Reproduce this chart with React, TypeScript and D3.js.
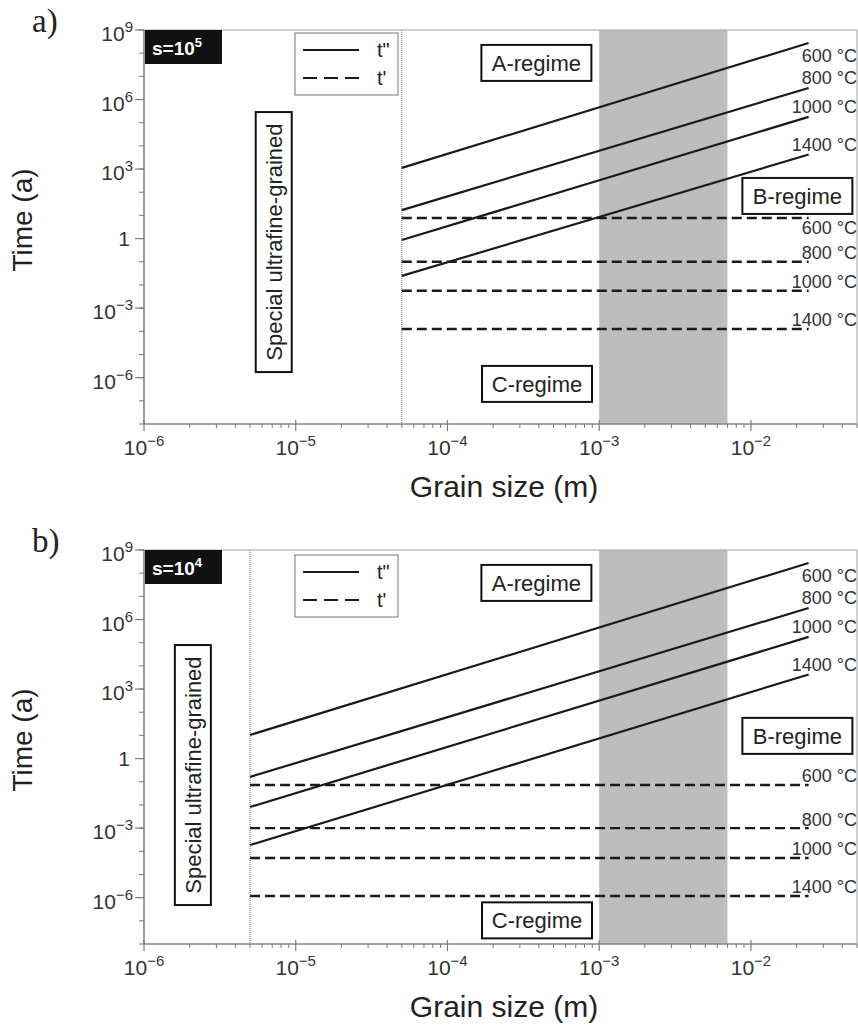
import React from 'react';
import * as d3 from 'd3';

// ---------- data ----------
const temperatures = ['600 °C', '800 °C', '1000 °C', '1400 °C'];
const grainDomain = [1e-6, 5e-2];
const timeDomain = [1e-8, 1e9];
const xTickExps = [-6, -5, -4, -3, -2];
const yTickExps = [9, 6, 3, 0, -3, -6];
const grainEnd = 2.4e-2;
const bandRange = [1e-3, 7e-3];

// log10 of time (a)
const solidEnd = [8.44, 6.5, 5.25, 3.63];
const solidLabelA = [7.92, 6.93, 5.68, 4.04];

const sExpA = '5';
const boundaryA = 5e-5;
const solidStartA = [3.05, 1.23, -0.06, -1.61];
const dashedA = [0.89, -1.0, -2.25, -3.9];
const dashedLabelA = [0.46, -0.62, -1.87, -3.51];

const sExpB = '4';
const boundaryB = 5e-6;
const solidStartB = [1.02, -0.79, -2.09, -3.73];
const dashedB = [-1.14, -3.0, -4.29, -5.93];
const dashedLabelB = [-0.71, -2.65, -3.86, -5.54];

// annotation anchors [log10 grain, log10 time]
const regimeA = { A: [-3.414, 7.58], B: [-1.694, 1.84], C: [-3.41, -6.27], S: [-5.145, -0.15] };
const regimeB = { A: [-3.414, 7.58], B: [-1.694, 0.98], C: [-3.41, -6.98], S: [-5.678, -0.71] };

const FONT = 'Liberation Sans, Arial, Helvetica, sans-serif';
const W = 858;
const H = 1034;
const LEFT = 144;
const RIGHT = 857;
const PH = 394;

type PanelProps = {
  top: number;
  letter: string;
  sExp: string;
  boundary: number;
  solidStart: number[];
  dashed: number[];
  dashedLabel: number[];
  regime: { A: number[]; B: number[]; C: number[]; S: number[] };
  legendOffset: number;
};

function Panel(p: PanelProps) {
  const x = d3.scaleLog().domain(grainDomain).range([LEFT, RIGHT]);
  const y = d3.scaleLog().domain(timeDomain).range([p.top + PH, p.top]);
  const bottom = p.top + PH;
  const line = d3
    .line<[number, number]>()
    .x((d) => x(d[0]))
    .y((d) => y(d[1]));

  const minorX: number[] = [];
  for (let e = -6; e <= -2; e++) {
    for (let m = 2; m <= 9; m++) {
      const v = m * Math.pow(10, e);
      if (v <= grainDomain[1]) minorX.push(v);
    }
  }
  const minorY: number[] = [];
  for (let e = -8; e <= 9; e++) minorY.push(Math.pow(10, e));

  const axisColor = '#7a7a7a';

  const box = (key: 'A' | 'B' | 'C', label: string) => {
    const cx = x(Math.pow(10, p.regime[key][0]));
    const cy = y(Math.pow(10, p.regime[key][1]));
    return (
      <g key={key}>
        <rect x={cx - 55} y={cy - 18} width={110} height={36} fill="white" stroke="#111" strokeWidth={2} />
        <text x={cx} y={cy} dy="0.36em" textAnchor="middle" fontSize={22} fill="#222" fontFamily={FONT}>
          {label}
        </text>
      </g>
    );
  };

  const sx = x(Math.pow(10, p.regime.S[0]));
  const sy = y(Math.pow(10, p.regime.S[1]));

  return (
    <g>
      {/* gray band */}
      <rect x={x(bandRange[0])} y={p.top} width={x(bandRange[1]) - x(bandRange[0])} height={PH} fill="#bdbdbd" />
      {/* frame */}
      <rect x={LEFT} y={p.top} width={RIGHT - LEFT} height={PH} fill="none" stroke="#a0a0a0" strokeWidth={1} />
      <line x1={LEFT} x2={LEFT} y1={p.top} y2={bottom} stroke={axisColor} strokeWidth={1.2} />
      <line x1={LEFT} x2={RIGHT} y1={bottom} y2={bottom} stroke={axisColor} strokeWidth={1.2} />
      {/* x ticks */}
      {minorX.map((v, i) => (
        <line key={'mx' + i} x1={x(v)} x2={x(v)} y1={bottom} y2={bottom + 4} stroke={axisColor} strokeWidth={1} />
      ))}
      {xTickExps.map((e) => (
        <g key={'xt' + e}>
          <line x1={x(Math.pow(10, e))} x2={x(Math.pow(10, e))} y1={bottom - 4} y2={bottom + 7} stroke={axisColor} strokeWidth={1.2} />
          <text x={x(Math.pow(10, e))} y={bottom + 31} textAnchor="middle" fontSize={21} fill="#333" fontFamily={FONT}>
            10
            <tspan fontSize={15} dy={-9}>{'\u2212' + Math.abs(e)}</tspan>
          </text>
        </g>
      ))}
      {/* y ticks */}
      {minorY.map((v, i) => (
        <line key={'my' + i} x1={LEFT - 5} x2={LEFT} y1={y(v)} y2={y(v)} stroke={axisColor} strokeWidth={1} />
      ))}
      {yTickExps.map((e) => (
        <g key={'yt' + e}>
          <line x1={LEFT - 9} x2={LEFT} y1={y(Math.pow(10, e))} y2={y(Math.pow(10, e))} stroke={axisColor} strokeWidth={1.2} />
          {e === 0 ? (
            <text x={LEFT - 14} y={y(1) + 7} textAnchor="end" fontSize={21} fill="#333" fontFamily={FONT}>
              1
            </text>
          ) : (
            <text x={LEFT - 11} y={y(Math.pow(10, e)) + 11} textAnchor="end" fontSize={21} fill="#333" fontFamily={FONT}>
              10
              <tspan fontSize={15} dy={-9}>{e < 0 ? '\u2212' + Math.abs(e) : String(e)}</tspan>
            </text>
          )}
        </g>
      ))}
      {/* boundary dotted */}
      <line x1={x(p.boundary)} x2={x(p.boundary)} y1={p.top} y2={bottom} stroke="#666" strokeWidth={1} strokeDasharray="1,1" />
      {/* solid lines t'' */}
      {temperatures.map((t, i) => (
        <path
          key={'s' + i}
          d={line([
            [p.boundary, Math.pow(10, p.solidStart[i])],
            [grainEnd, Math.pow(10, solidEnd[i])],
          ]) as string}
          fill="none"
          stroke="#1a1a1a"
          strokeWidth={2.2}
        />
      ))}
      {/* dashed lines t' */}
      {temperatures.map((t, i) => (
        <path
          key={'d' + i}
          d={line([
            [p.boundary, Math.pow(10, p.dashed[i])],
            [grainEnd, Math.pow(10, p.dashed[i])],
          ]) as string}
          fill="none"
          stroke="#1a1a1a"
          strokeWidth={2.4}
          strokeDasharray="10,5"
        />
      ))}
      {/* labels */}
      {temperatures.map((t, i) => (
        <text key={'sl' + i} x={RIGHT} y={y(Math.pow(10, solidLabelA[i]))} dy="0.36em" textAnchor="end" fontSize={18} fill="#333" fontFamily={FONT}>
          {t}
        </text>
      ))}
      {temperatures.map((t, i) => (
        <text key={'dl' + i} x={RIGHT} y={y(Math.pow(10, p.dashedLabel[i]))} dy="0.36em" textAnchor="end" fontSize={18} fill="#333" fontFamily={FONT}>
          {t}
        </text>
      ))}
      {/* regimes */}
      {box('A', 'A-regime')}
      {box('B', 'B-regime')}
      {box('C', 'C-regime')}
      <g>
        <rect x={sx - 18} y={sy - 130} width={36} height={260} fill="white" stroke="#111" strokeWidth={2} />
        <text
          transform={`translate(${sx},${sy}) rotate(-90)`}
          dy="0.36em"
          textAnchor="middle"
          fontSize={22}
          fill="#222"
          fontFamily={FONT}
        >
          Special ultrafine-grained
        </text>
      </g>
      {/* s box */}
      <rect x={LEFT + 1} y={p.top} width={77} height={34} fill="#111" />
      <text x={LEFT + 8} y={p.top + 25} fontSize={19} fontWeight="bold" fill="white" fontFamily={FONT}>
        s=10
        <tspan fontSize={13} dy={-8}>{p.sExp}</tspan>
      </text>
      {/* legend */}
      <g transform={`translate(0,${p.top + p.legendOffset})`}>
        <rect x={295} y={0} width={103} height={62} fill="white" stroke="#777" strokeWidth={1} />
        <line x1={303} x2={359} y1={17} y2={17} stroke="#1a1a1a" strokeWidth={2} />
        <line x1={303} x2={359} y1={45} y2={45} stroke="#1a1a1a" strokeWidth={2} strokeDasharray="14,7" />
        <text x={377} y={17} dy="0.36em" fontSize={20} fill="#222" fontFamily={FONT}>t"</text>
        <text x={377} y={45} dy="0.36em" fontSize={20} fill="#222" fontFamily={FONT}>t'</text>
      </g>
      {/* axis titles */}
      <text x={504} y={bottom + 73} textAnchor="middle" fontSize={30} fill="#222" fontFamily={FONT}>
        Grain size (m)
      </text>
      <text transform={`translate(32,${p.top + 190}) rotate(-90)`} textAnchor="middle" fontSize={28} fill="#222" fontFamily={FONT}>
        Time (a)
      </text>
      {/* panel letter */}
      <text x={32} y={p.top + 2} fontSize={33} fill="#222" fontFamily="Liberation Serif, Times New Roman, serif">
        {p.letter}
      </text>
    </g>
  );
}

export default function App() {
  return (
    <svg width={W} height={H} style={{ position: 'absolute', left: 0, top: 0, background: 'white' }}>
      <rect x={0} y={0} width={W} height={H} fill="white" />
      <Panel
        top={30}
        letter="a)"
        sExp={sExpA}
        boundary={boundaryA}
        solidStart={solidStartA}
        dashed={dashedA}
        dashedLabel={dashedLabelA}
        regime={regimeA}
        legendOffset={3}
      />
      <Panel
        top={550}
        letter="b)"
        sExp={sExpB}
        boundary={boundaryB}
        solidStart={solidStartB}
        dashed={dashedB}
        dashedLabel={dashedLabelB}
        regime={regimeB}
        legendOffset={5}
      />
    </svg>
  );
}
